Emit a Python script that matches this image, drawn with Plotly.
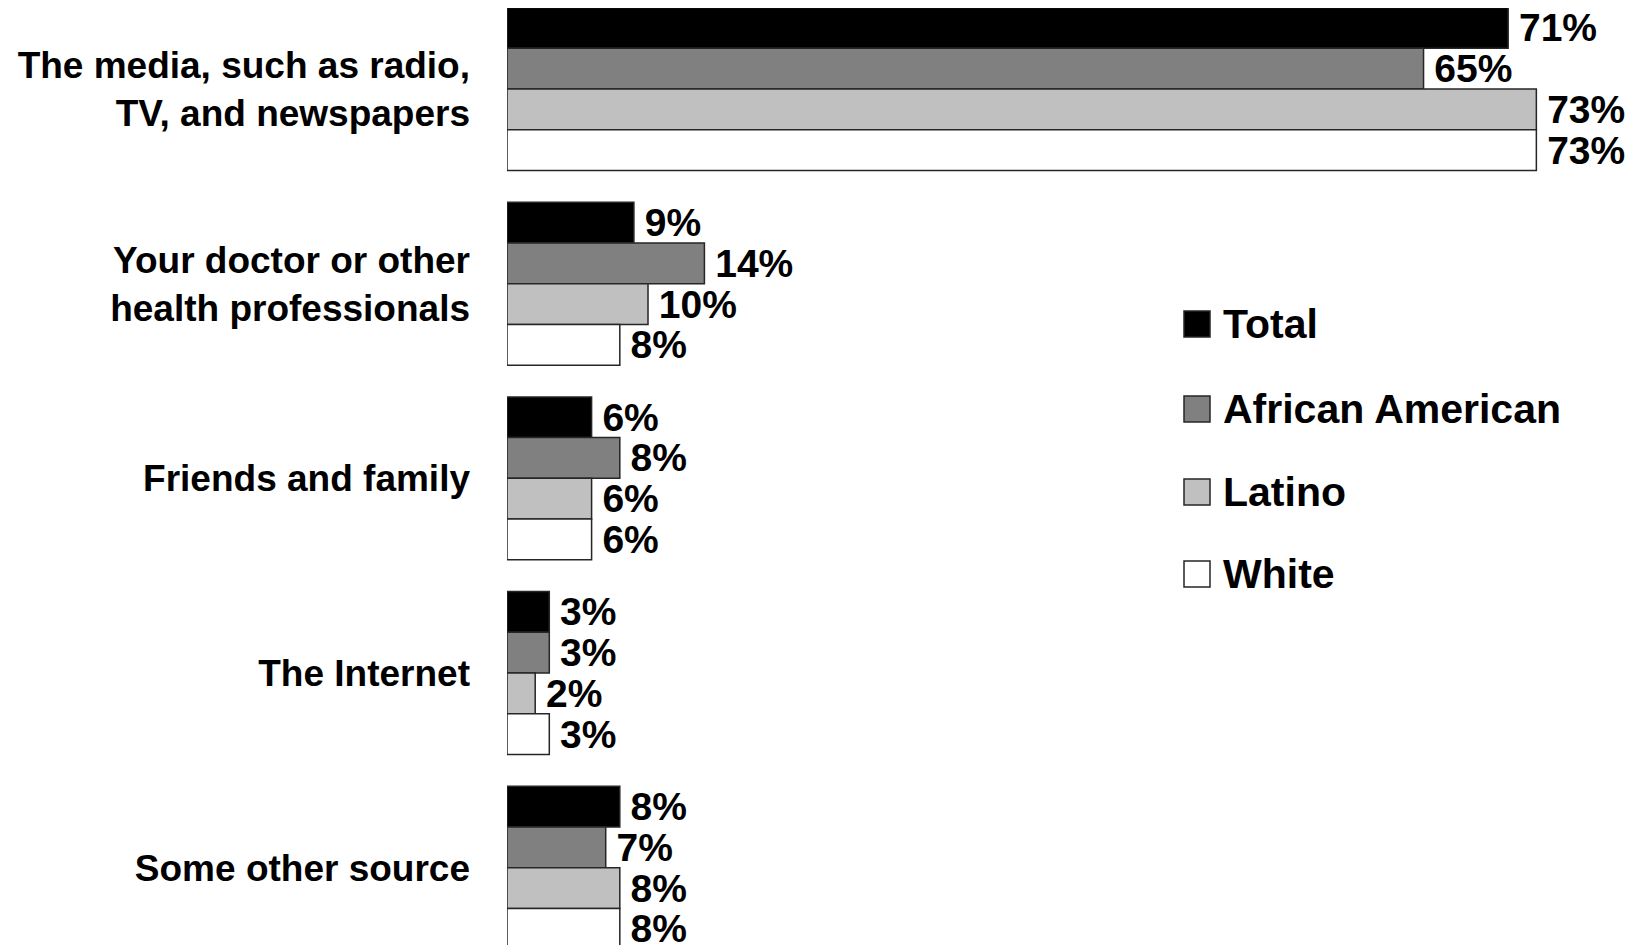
import plotly.graph_objects as go

categories = [
    "The media, such as radio,<br>TV, and newspapers",
    "Your doctor or other<br>health professionals",
    "Friends and family",
    "The Internet",
    "Some other source",
]
series_names = ["Total", "African American", "Latino", "White"]
total = [71, 9, 6, 3, 8]
african_american = [65, 14, 8, 3, 7]
latino = [73, 10, 6, 2, 8]
white = [73, 8, 6, 3, 8]
series_values = [total, african_american, latino, white]
colors = ["#000000", "#808080", "#C0C0C0", "#FFFFFF"]

OFF = 8  # page body margin
W, H = 1632, 945
ML, MR, MT, MB = 507 - OFF, 0, 0, 0
FONT = "Arial, Liberation Sans, Helvetica, sans-serif"

fig = go.Figure()
for name, vals, col in zip(series_names, series_values, colors):
    fig.add_trace(go.Bar(
        y=categories, x=vals, name=name, orientation="h",
        marker=dict(color=col, line=dict(color="#262626", width=1.5)),
        text=[f"{v}%" for v in vals], textposition="outside",
        texttemplate="<b>\u2009%{x}%</b>",
        textfont=dict(family=FONT, size=39, color="black"),
        constraintext="none", cliponaxis=False, showlegend=False,
    ))

fig.update_layout(
    width=W, height=H,
    margin=dict(l=ML, r=MR, t=MT, b=MB, pad=0),
    barmode="group", bargap=0.163, bargroupgap=0,
    plot_bgcolor="white", paper_bgcolor="white",
    font=dict(family=FONT, color="black"),
    xaxis=dict(range=[0, 80.35], visible=False, fixedrange=True),
    yaxis=dict(
        type="category", range=[4.438, -0.416],
        showgrid=False, zeroline=False, showline=False, ticks="",
        ticklabelstandoff=36,
        tickvals=categories,
        ticktext=[f"<b>{c}</b>".replace("<br>", "</b><br><b>") for c in categories],
        tickfont=dict(family=FONT, size=37, color="black"),
    ),
)

# custom legend (paper coordinates from page pixel positions)
def px_x(p):
    return (p - OFF - ML) / (W - ML - MR)

def px_y(p):
    return 1 - (p - OFF - MT) / (H - MT - MB)

legend_rows = [324, 409, 492, 574]
for name, col, yc in zip(series_names, colors, legend_rows):
    fig.add_shape(type="rect", xref="paper", yref="paper",
                  x0=px_x(1184), x1=px_x(1210), y0=px_y(yc + 13), y1=px_y(yc - 13),
                  fillcolor=col, line=dict(color="#262626", width=1.5))
    fig.add_annotation(xref="paper", yref="paper", x=px_x(1221), y=px_y(yc),
                       xanchor="left", yanchor="middle", showarrow=False,
                       text=f"<b>{name}</b>",
                       font=dict(family=FONT, size=41, color="black"))

fig.write_html("out.html")
